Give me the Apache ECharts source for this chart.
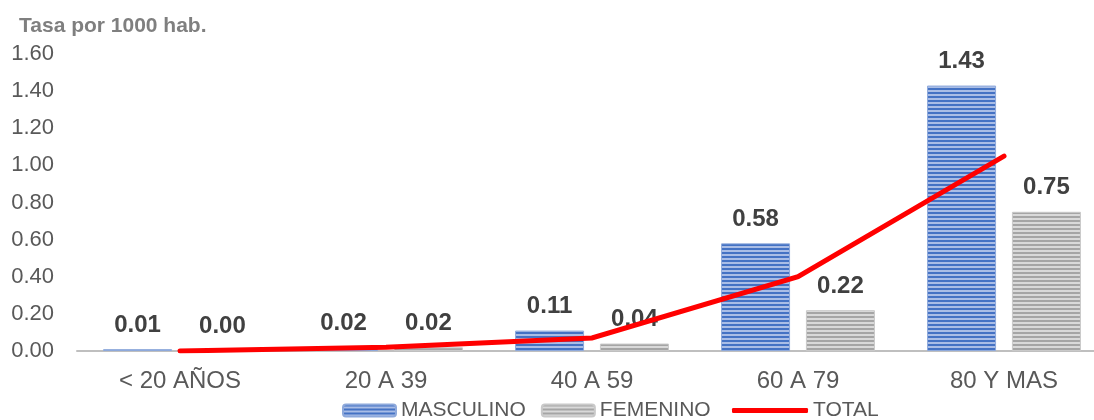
<!DOCTYPE html>
<html>
<head>
<meta charset="utf-8">
<script src="https://cdn.jsdelivr.net/npm/echarts@6/dist/echarts.min.js"></script>
<style>
html,body{margin:0;padding:0;background:#fff;}
#chart{width:1094px;height:420px;}
</style>
</head>
<body>
<div id="chart"></div>
<script>
const categories = ['< 20 AÑOS', '20 A 39', '40 A 59', '60 A 79', '80 Y MAS'];
const masculino = [0.01, 0.02, 0.11, 0.58, 1.43];
const femenino = [0.00, 0.02, 0.04, 0.22, 0.75];
const total = [0.00, 0.02, 0.07, 0.40, 1.05];
const seriesNames = ['MASCULINO', 'FEMENINO', 'TOTAL'];
const yTitle = 'Tasa por 1000 hab.';

function stripes(dark, light) {
  const c = document.createElement('canvas');
  c.width = 4; c.height = 4;
  const ctx = c.getContext('2d');
  ctx.fillStyle = light; ctx.fillRect(0, 0, 4, 4);
  ctx.fillStyle = dark; ctx.fillRect(0, 0, 4, 2);
  return { image: c, repeat: 'repeat' };
}

const font = 'Liberation Sans, Arial, sans-serif';
const chart = echarts.init(document.getElementById('chart'), null, { renderer: 'canvas' });

const barLabel = {
  show: true, position: 'top', distance: 12,
  fontFamily: font, fontSize: 24, fontWeight: 'bold', color: '#404040',
  formatter: p => p.value.toFixed(2)
};
const legendText = { fontFamily: font, fontSize: 21, color: '#595959' };

chart.setOption({
  animation: false,
  backgroundColor: '#fff',
  title: {
    text: yTitle, left: 14, top: 11,
    textStyle: { fontFamily: font, fontSize: 21, fontWeight: 'bold', color: '#7f7f7f' }
  },
  grid: { left: 77, width: 1030, top: 54, bottom: 69, containLabel: false, outerBoundsMode: 'none' },
  legend: [
    {
      left: 337, top: 395,
      itemWidth: 53, itemHeight: 12, itemGap: 15,
      textStyle: legendText,
      data: [seriesNames[0], seriesNames[1]]
    },
    {
      left: 727, top: 395,
      itemWidth: 76, itemHeight: 5,
      textStyle: legendText,
      itemStyle: { color: '#FF0000' },
      data: [{ name: seriesNames[2], icon: 'roundRect' }]
    }
  ],
  xAxis: {
    type: 'category', data: categories,
    axisLine: { lineStyle: { color: '#BFBFBF', width: 2 } },
    axisTick: { show: false },
    axisLabel: { fontFamily: font, fontSize: 24, color: '#595959', margin: 18 }
  },
  yAxis: {
    type: 'value', min: 0, max: 1.6, interval: 0.2,
    splitLine: { show: false },
    axisLine: { show: false }, axisTick: { show: false },
    axisLabel: { fontFamily: font, fontSize: 22, color: '#595959', margin: 23,
      formatter: v => v.toFixed(2) }
  },
  series: [
    {
      name: seriesNames[0], type: 'bar', data: masculino,
      barWidth: '33.5%', barGap: '23%',
      itemStyle: { color: stripes('#4472C4', '#A9BDE6'), borderColor: '#8EA9DB', borderWidth: 1 },
      label: barLabel
    },
    {
      name: seriesNames[1], type: 'bar', data: femenino,
      barWidth: '33.5%', barGap: '23%',
      itemStyle: { color: stripes('#A5A5A5', '#D9D9D9'), borderColor: '#C9C9C9', borderWidth: 1 },
      label: barLabel
    },
    {
      name: seriesNames[2], type: 'line', data: total,
      showSymbol: false, symbol: 'none', z: 3,
      lineStyle: { color: '#FF0000', width: 5, cap: 'round', join: 'miter' },
      itemStyle: { color: '#FF0000' }
    }
  ]
});
</script>
</body>
</html>
